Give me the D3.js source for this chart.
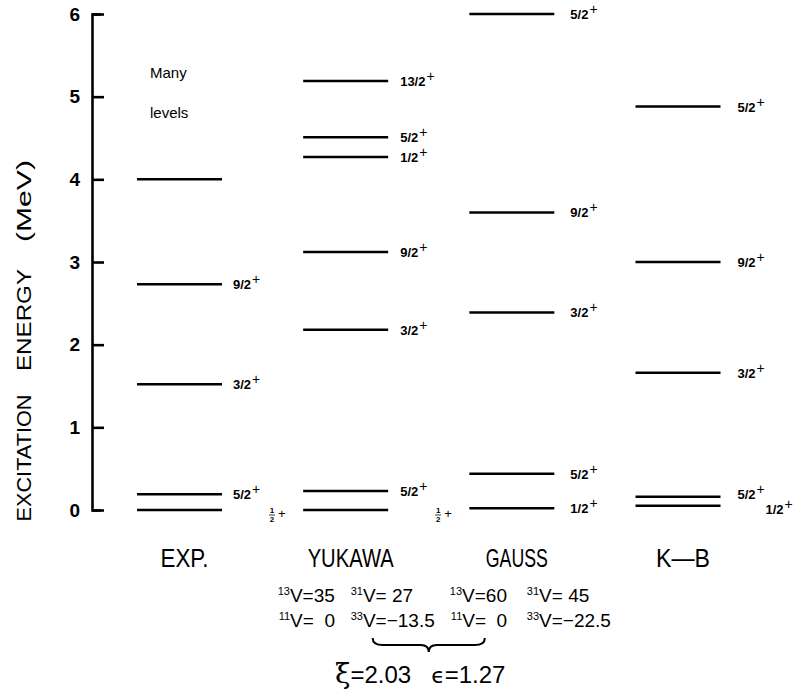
<!DOCTYPE html>
<html>
<head>
<meta charset="utf-8">
<script src="https://cdn.jsdelivr.net/npm/d3@7"></script>
<style>
  body { margin: 0; background: #fff; }
  text { font-family: "Liberation Sans", Arial, sans-serif; fill: #000; }
</style>
</head>
<body>
<svg width="795" height="693"></svg>
<script>
const models = ["EXP.", "YUKAWA", "GAUSS", "K—B"];
const expLevels = [0, 0.19, 1.52, 2.73, 4.0];
const expSpins = ["½", "5/2", "3/2", "9/2", ""];
const yukawaLevels = [0, 0.23, 2.18, 3.12, 4.27, 4.51, 5.19];
const yukawaSpins = ["½", "5/2", "3/2", "9/2", "1/2", "5/2", "13/2"];
const gaussLevels = [0.02, 0.44, 2.39, 3.6, 6.0];
const gaussSpins = ["1/2", "5/2", "3/2", "9/2", "5/2"];
const kbLevels = [0.05, 0.16, 1.66, 3.0, 4.88];
const kbSpins = ["1/2", "5/2", "3/2", "9/2", "5/2"];
const yTicks = [0, 1, 2, 3, 4, 5, 6];

// potential strengths shown under YUKAWA and GAUSS
const channels = ["13", "31", "11", "33"];
const yukawaV = [35, 27, 0, -13.5];
const gaussV = [60, 45, 0, -22.5];
const xi = 2.03;
const eps = 1.27;

const svg = d3.select("svg");
const halfW = 42.5;

const y = d3.scaleLinear().domain([0, 6]).range([510, 14]);
const x = d3.scalePoint().domain(models).range([179.5, 678]);

const columns = [
  { name: models[0], levels: expLevels, spins: expSpins, gap: 11 },
  { name: models[1], levels: yukawaLevels, spins: yukawaSpins, gap: 12 },
  { name: models[2], levels: gaussLevels, spins: gaussSpins, gap: 16 },
  { name: models[3], levels: kbLevels, spins: kbSpins, gap: 17 }
];

// axis: ticks point inward (right), ends bent like brackets, numbers on the left
const axis = d3.axisRight(y)
  .tickValues(yTicks)
  .tickFormat(d3.format("d"))
  .tickSizeInner(12)
  .tickSizeOuter(9);

const ax = svg.append("g")
  .attr("transform", "translate(92,0)")
  .call(axis);
ax.select(".domain").attr("stroke", "#000").attr("stroke-width", 2.6).attr("fill", "none");
ax.selectAll(".tick line").attr("stroke", "#000").attr("stroke-width", 2.6);
ax.selectAll(".tick text")
  .attr("x", -12)
  .attr("text-anchor", "end")
  .attr("font-family", "'Liberation Sans', Arial, sans-serif")
  .attr("font-size", 19)
  .attr("font-weight", "bold")
  .attr("fill", "#000");

// y title, words spread out
const titleWords = [
  { t: "EXCITATION", c: 458, w: 127 },
  { t: "ENERGY", c: 320, w: 102 },
  { t: "(MeV)", c: 201, w: 82 }
];
svg.selectAll(".ytitle").data(titleWords).join("text")
  .attr("class", "ytitle")
  .attr("transform", d => `translate(31,${d.c}) rotate(-90)`)
  .attr("text-anchor", "middle")
  .attr("font-size", 21)
  .attr("textLength", d => d.w)
  .attr("lengthAdjust", "spacingAndGlyphs")
  .text(d => d.t);

// "Many levels" note above the EXP column
svg.append("text").attr("x", 150).attr("y", 78).attr("font-size", 15).text("Many");
svg.append("text").attr("x", 150).attr("y", 118).attr("font-size", 15).text("levels");

// level lines and spin labels
columns.forEach(c => {
  const cx = x(c.name);
  const g = svg.append("g");

  g.selectAll("line").data(c.levels).join("line")
    .attr("x1", cx - halfW)
    .attr("x2", cx + halfW)
    .attr("y1", d => y(d))
    .attr("y2", d => y(d))
    .attr("stroke", "#000")
    .attr("stroke-width", 2.5);

  c.levels.forEach((lv, i) => {
    const s = c.spins[i];
    if (!s) return;
    const ly = y(lv);
    if (s === "½") {
      // stacked half, set further out
      const hx = cx + halfW + 50;
      g.append("text").attr("x", hx).attr("y", ly + 3).attr("font-size", 8)
        .attr("font-weight", "bold").attr("text-anchor", "middle").text("1");
      g.append("line").attr("x1", hx - 3).attr("x2", hx + 3)
        .attr("y1", ly + 5).attr("y2", ly + 5).attr("stroke", "#000").attr("stroke-width", 0.8);
      g.append("text").attr("x", hx).attr("y", ly + 12).attr("font-size", 8)
        .attr("font-weight", "bold").attr("text-anchor", "middle").text("2");
      g.append("text").attr("x", hx + 6).attr("y", ly + 8).attr("font-size", 13).text("+");
      return;
    }
    let lx = cx + halfW + c.gap;
    let dy = 5;
    // K-B ground label sits lower and to the right of the 5/2 label
    if (c.name === "K—B" && i === 0) { lx += 28; dy = 8; }
    if (c.name === "K—B" && i === 1) { dy = 2; }
    const t = g.append("text")
      .attr("x", lx)
      .attr("y", ly + dy)
      .attr("font-size", 13)
      .attr("font-weight", "bold");
    t.append("tspan").text(s);
    t.append("tspan").attr("dy", -5).attr("dx", 1).attr("font-size", 14).attr("font-weight", "normal").text("+");
  });
});

// model names
const nameWidths = [48, 86, 62, 54];
svg.selectAll(".model").data(models).join("text")
  .attr("class", "model")
  .attr("x", d => x(d) + 5)
  .attr("y", 567)
  .attr("text-anchor", "middle")
  .attr("font-size", 25)
  .attr("textLength", (d, i) => nameWidths[i])
  .attr("lengthAdjust", "spacingAndGlyphs")
  .text(d => d);

// potential parameters
const pads = ["", " ", "  ", ""];
function vItem(px, py, k, val) {
  const t = svg.append("text").attr("x", px).attr("y", py).attr("font-size", 19)
    .style("white-space", "pre");
  t.append("tspan").attr("font-size", 11).attr("dy", -7).text(channels[k]);
  t.append("tspan").attr("dy", 7).text("V=" + pads[k] + d3.format("")(val));
}
const paramSets = [
  { name: models[1], vals: yukawaV, off: [-68, 5] },
  { name: models[2], vals: gaussV, off: [-62, 15] }
];
paramSets.forEach(p => {
  const cx = x(p.name);
  vItem(cx + p.off[0], 602, 0, p.vals[0]);
  vItem(cx + p.off[1], 602, 1, p.vals[1]);
  vItem(cx + p.off[0] + 1, 627, 2, p.vals[2]);
  vItem(cx + p.off[1], 627, 3, p.vals[3]);
});

// brace joining the two inner columns
const bx0 = x(models[1]) + 27, bx1 = x(models[2]) - 27, bm = (bx0 + bx1) / 2;
svg.append("path")
  .attr("d", `M${bx0},638 Q${bx0},645 ${bx0 + 10},645 L${bm - 8},645 Q${bm},645 ${bm},652 Q${bm},645 ${bm + 8},645 L${bx1 - 10},645 Q${bx1},645 ${bx1},638`)
  .attr("fill", "none")
  .attr("stroke", "#000")
  .attr("stroke-width", 2);

const xt = svg.append("text").attr("x", 335).attr("y", 683).attr("font-size", 24)
  .style("white-space", "pre");
xt.append("tspan").attr("font-size", 28).attr("font-family", "'DejaVu Serif', serif").text("ξ");
xt.append("tspan").text("=" + xi.toFixed(2) + "   ");
xt.append("tspan").attr("font-family", "'DejaVu Sans', sans-serif").attr("font-size", 22).text("ϵ");
xt.append("tspan").text("=" + eps.toFixed(2));
</script>
</body>
</html>
